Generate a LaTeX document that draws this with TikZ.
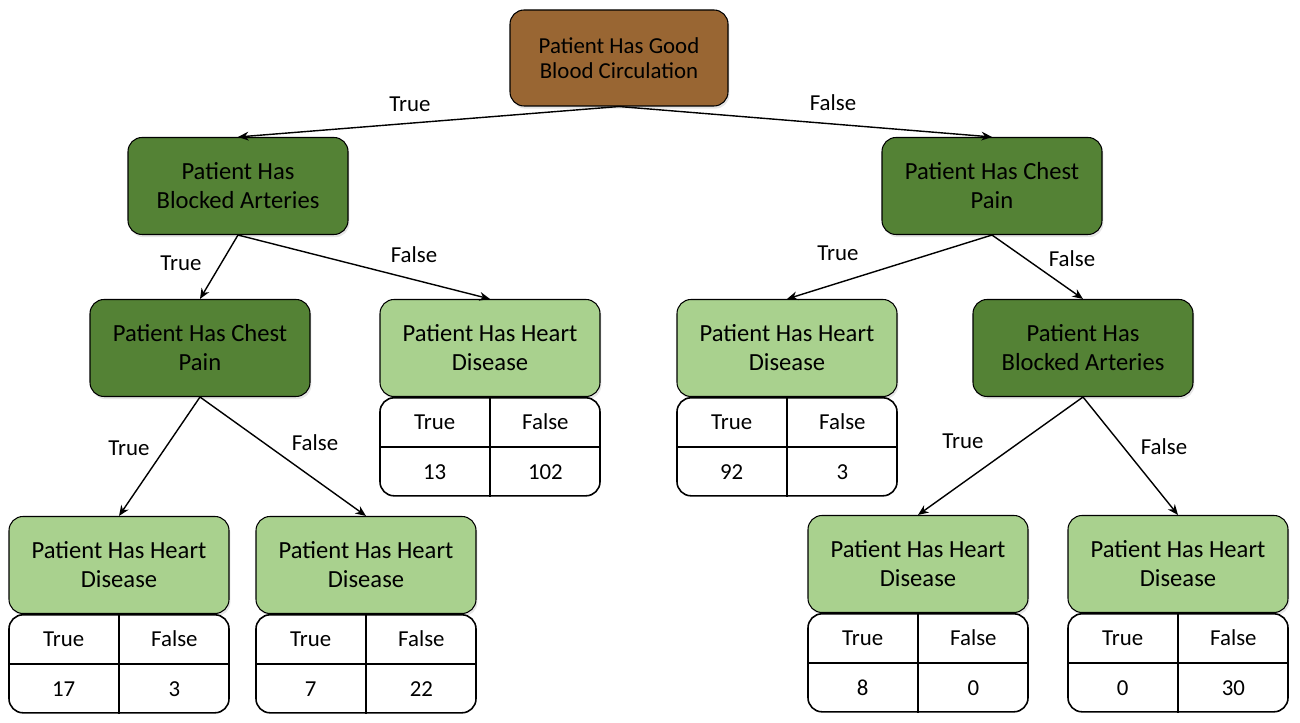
\documentclass[tikz,border=0pt]{standalone}
\usepackage{fontspec}
\setmainfont{Carlito}
\usepackage{xcolor}
\usetikzlibrary{arrows.meta, positioning, shadows, calc}
\definecolor{rootbrown}{RGB}{153, 102, 51}
\definecolor{splitgreen}{RGB}{84, 130, 53}
\definecolor{leafgreen}{RGB}{169, 209, 142}

\tikzset{
  treebox/.style={draw=black, rounded corners=8pt, line width=0.6pt,
    minimum width=4.4cm, minimum height=1.94cm, align=center,
    font=\fontsize{14}{16.5}\selectfont,
    drop shadow={opacity=0.2, shadow xshift=0.8pt, shadow yshift=-1.5pt}},
  rootnode/.style={treebox, fill=rootbrown, minimum width=4.36cm, minimum height=1.92cm,
    font=\fontsize{13}{14.5}\selectfont},
  splitnode/.style={treebox, fill=splitgreen},
  leafnode/.style={treebox, fill=leafgreen},
  counttab/.style={draw=black, fill=white, rounded corners=8pt, line width=0.9pt,
    minimum width=4.4cm, minimum height=1.96cm, inner sep=0pt},
  cellrule/.style={line width=0.9pt},
  celltext/.style={font=\fontsize{13}{15}\selectfont},
  branch/.style={-{Stealth[length=6pt, width=5pt]}, line width=0.8pt},
  branchlbl/.style={font=\fontsize{13}{15}\selectfont}
}

% counts table under a leaf
\newcommand{\counttable}[3]{%
  \node[counttab, below=0pt of #1] (#1-tab) {};
  \draw[cellrule] (#1-tab.north) -- (#1-tab.south);
  \draw[cellrule] (#1-tab.west) -- (#1-tab.east);
  \node[celltext] (#1-ht) at ($(#1-tab.north west)!0.5!(#1-tab.center)$) {True};
  \node[celltext] (#1-hf) at ($(#1-tab.north east)!0.5!(#1-tab.center)$) {False};
  \node[celltext] (#1-ct) at ($(#1-tab.south west)!0.5!(#1-tab.center)$) {#2};
  \node[celltext] (#1-cf) at ($(#1-tab.south east)!0.5!(#1-tab.center)$) {#3};
}

\begin{document}
\begin{tikzpicture}
  \useasboundingbox (0,0) rectangle (26,14.46);

  % root
  \node[rootnode] (circ) at (12.38,13.30) {Patient Has Good\\Blood Circulation};

  % first split
  \node[splitnode] (artL) at (4.76,10.74) {Patient Has\\Blocked Arteries};
  \node[splitnode] (painR) at (19.84,10.74) {Patient Has Chest\\Pain};

  % second split
  \node[splitnode] (painL) at (4.00,7.50) {Patient Has Chest\\Pain};
  \node[leafnode] (leafB) at (9.80,7.50) {Patient Has Heart\\Disease};
  \node[leafnode] (leafC) at (15.74,7.50) {Patient Has Heart\\Disease};
  \node[splitnode] (artR) at (21.66,7.50) {Patient Has\\Blocked Arteries};

  % leaves
  \node[leafnode] (leafA1) at (2.38,3.16) {Patient Has Heart\\Disease};
  \node[leafnode] (leafA2) at (7.32,3.16) {Patient Has Heart\\Disease};
  \node[leafnode] (leafD1) at (18.36,3.18) {Patient Has Heart\\Disease};
  \node[leafnode] (leafD2) at (23.56,3.18) {Patient Has Heart\\Disease};

  \counttable{leafB}{13}{102}
  \counttable{leafC}{92}{3}
  \counttable{leafA1}{17}{3}
  \counttable{leafA2}{7}{22}
  \counttable{leafD1}{8}{0}
  \counttable{leafD2}{0}{30}

  % branches
  \draw[branch] (circ.south) -- (artL.north);
  \draw[branch] (circ.south) -- (painR.north);
  \draw[branch] (artL.south) -- (painL.north);
  \draw[branch] (artL.south) -- (leafB.north);
  \draw[branch] (painR.south) -- (leafC.north);
  \draw[branch] (painR.south) -- (artR.north);
  \draw[branch] (painL.south) -- (leafA1.north);
  \draw[branch] (painL.south) -- (leafA2.north);
  \draw[branch] (artR.south) -- (leafD1.north);
  \draw[branch] (artR.south) -- (leafD2.north);

  % branch labels
  \node[branchlbl] (l1t) at (8.20,12.38) {True};
  \node[branchlbl] (l1f) at (16.66,12.40) {False};
  \node[branchlbl] (l2t) at (3.62,9.20) {True};
  \node[branchlbl] (l2f) at (8.28,9.36) {False};
  \node[branchlbl] (l3t) at (16.76,9.40) {True};
  \node[branchlbl] (l3f) at (21.44,9.28) {False};
  \node[branchlbl] (l4t) at (2.58,5.50) {True};
  \node[branchlbl] (l4f) at (6.30,5.60) {False};
  \node[branchlbl] (l5t) at (19.26,5.64) {True};
  \node[branchlbl] (l5f) at (23.28,5.52) {False};
\end{tikzpicture}
\end{document}
